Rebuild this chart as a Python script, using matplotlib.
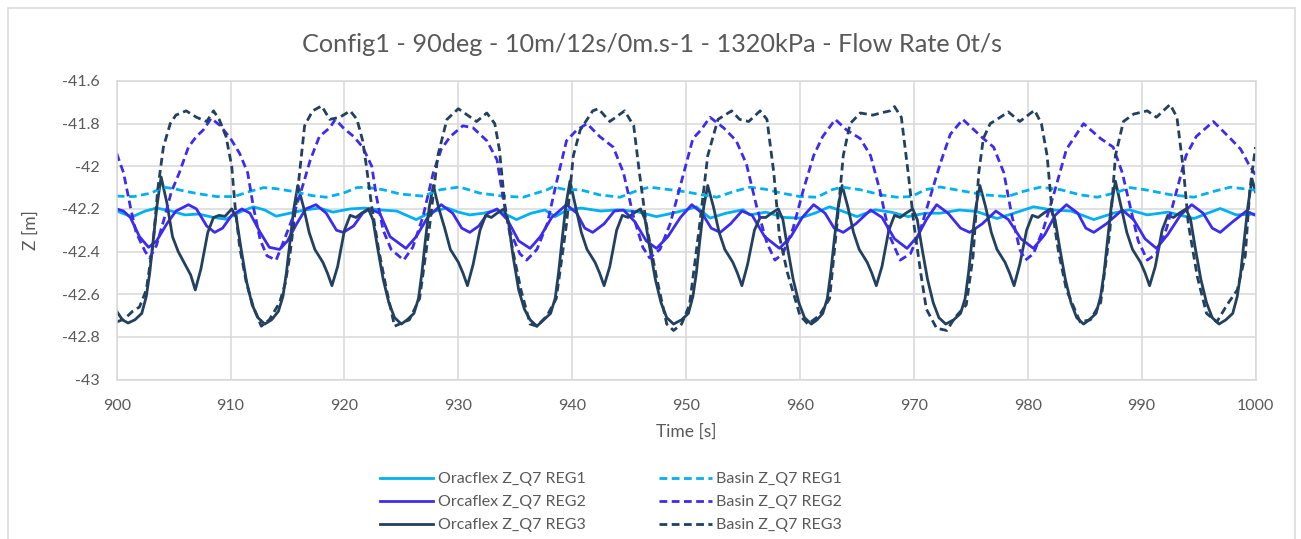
import matplotlib
matplotlib.use('Agg')
import matplotlib.pyplot as plt
from matplotlib.lines import Line2D
from matplotlib.patches import Rectangle

plt.rcParams['font.family'] = ['Lato', 'DejaVu Sans']

# ---------------- data ----------------
title = "Config1 - 90deg - 10m/12s/0m.s-1 - 1320kPa - Flow Rate 0t/s"
x_label = "Time [s]"
y_label = "Z [m]"
x_ticks = [900, 910, 920, 930, 940, 950, 960, 970, 980, 990, 1000]
y_ticks = [-43.0, -42.8, -42.6, -42.4, -42.2, -42.0, -41.8, -41.6]
y_tick_labels = ["-43", "-42.8", "-42.6", "-42.4", "-42.2", "-42", "-41.8", "-41.6"]
series_names = ["Oracflex Z_Q7 REG1", "Orcaflex Z_Q7 REG2", "Orcaflex Z_Q7 REG3",
                "Basin Z_Q7 REG1", "Basin Z_Q7 REG2", "Basin Z_Q7 REG3"]

# Orcaflex REG1 (solid cyan)
t_orca1 = [900.0, 901.0, 901.4, 902.5, 903.5, 904.8, 906.0, 907.2, 908.5, 909.6, 910.8, 912.0, 913.0,
           914.0, 915.2, 916.5, 917.8, 919.0, 920.5, 921.8, 923.2, 924.6, 926.3, 927.6, 929.0, 930.0,
           931.0, 932.2, 933.4, 935.1, 936.4, 937.6, 938.5, 939.6, 940.8, 942.5, 944.0, 945.6, 947.4,
           948.8, 950.0, 950.9, 952.1, 953.5, 955.0, 955.6, 957.0, 958.6, 960.0, 961.3, 962.6, 963.8,
           965.0, 966.6, 968.0, 969.5, 971.0, 972.3, 974.0, 975.5, 977.3, 978.8, 980.5, 982.0, 983.8,
           985.8, 987.5, 988.9, 990.5, 992.3, 994.6, 995.8, 996.9, 998.3, 1000.0]
z_orca1 = [-42.21, -42.23, -42.236, -42.21, -42.196, -42.21, -42.228, -42.224, -42.24, -42.248, -42.215, -42.19, -42.205,
           -42.234, -42.22, -42.205, -42.196, -42.215, -42.200, -42.196, -42.205, -42.21, -42.25, -42.215, -42.195, -42.215,
           -42.228, -42.22, -42.205, -42.25, -42.22, -42.205, -42.236, -42.204, -42.196, -42.21, -42.204, -42.212, -42.236,
           -42.22, -42.204, -42.19, -42.243, -42.22, -42.204, -42.228, -42.215, -42.24, -42.243, -42.22, -42.19, -42.212,
           -42.236, -42.204, -42.215, -42.236, -42.22, -42.22, -42.205, -42.212, -42.245, -42.22, -42.19, -42.204, -42.21,
           -42.25, -42.22, -42.204, -42.228, -42.215, -42.245, -42.22, -42.198, -42.228, -42.224]

# Orcaflex REG2 (solid blue)
t_orca2 = [900.0, 900.6, 901.2, 902.0, 902.8, 903.5, 904.4, 905.2, 906.3, 907.0, 907.9, 908.6, 909.3, 910.1,
           911.0, 911.7, 912.6, 913.4, 914.3, 915.0, 915.8, 916.6, 917.5, 918.4, 919.3, 919.9, 920.8, 921.6,
           922.2, 923.1, 924.0, 925.4, 926.3, 927.3, 928.5, 929.5, 930.3, 931.0, 931.8, 932.6, 933.4, 934.3,
           935.3, 936.3, 937.2, 938.2, 939.5, 940.4, 941.1, 941.8, 942.8, 943.7, 944.5, 945.5, 946.5, 947.4,
           948.4, 949.5, 950.5, 951.4, 952.2, 953.0, 953.9, 954.9, 955.8, 956.9, 958.2, 959.2, 960.2, 961.2,
           962.2, 963.0, 963.8, 964.9, 966.2, 967.2, 968.3, 969.4, 970.3, 971.1, 972.0, 973.0, 974.1, 974.9,
           976.0, 977.2, 978.3, 979.4, 980.5, 981.5, 982.4, 983.4, 984.4, 985.1, 985.8, 986.9, 988.3, 989.3,
           990.3, 991.3, 992.3, 993.4, 994.4, 995.4, 996.2, 996.9, 998.0, 999.2, 1000.0]
z_orca2 = [-42.20, -42.21, -42.24, -42.33, -42.38, -42.35, -42.27, -42.21, -42.18, -42.20, -42.28, -42.31, -42.29, -42.23,
           -42.20, -42.22, -42.31, -42.38, -42.39, -42.35, -42.27, -42.20, -42.18, -42.22, -42.30, -42.31, -42.28, -42.22,
           -42.20, -42.22, -42.33, -42.385, -42.33, -42.24, -42.18, -42.22, -42.29, -42.31, -42.28, -42.22, -42.20, -42.25,
           -42.35, -42.385, -42.33, -42.24, -42.18, -42.22, -42.29, -42.31, -42.27, -42.21, -42.205, -42.26, -42.35, -42.385,
           -42.33, -42.24, -42.18, -42.22, -42.29, -42.31, -42.27, -42.21, -42.23, -42.33, -42.385, -42.33, -42.24, -42.18,
           -42.22, -42.29, -42.31, -42.27, -42.205, -42.24, -42.34, -42.385, -42.33, -42.25, -42.18, -42.22, -42.29, -42.31,
           -42.27, -42.21, -42.25, -42.34, -42.385, -42.32, -42.23, -42.18, -42.22, -42.29, -42.31, -42.27, -42.205, -42.25,
           -42.34, -42.385, -42.32, -42.23, -42.18, -42.22, -42.29, -42.31, -42.26, -42.21, -42.23]

# Orcaflex REG3 (solid navy)
t_orca3 = [900.0, 900.5, 901.0,
           901.6, 902.2, 902.6, 902.9, 903.2, 903.55, 903.9, 904.4, 904.9, 905.4, 906.1, 906.5, 906.9, 907.4, 908.0, 908.5, 909.0, 909.5, 910.1, 910.5, 910.9, 911.4, 911.9, 912.4, 913.0,
           913.6, 914.2, 914.6, 914.9, 915.2, 915.55, 915.9, 916.4, 916.9, 917.4, 918.1, 918.5, 918.9, 919.4, 920.0, 920.5, 921.0, 921.5, 922.1, 922.5, 922.9, 923.4, 923.9, 924.4, 925.0,
           925.5, 926.1, 926.5, 926.8, 927.1, 927.45, 927.8, 928.3, 928.8, 929.3, 930.0, 930.4, 930.8, 931.3, 931.9, 932.4, 932.9, 933.4, 934.0, 934.4, 934.8, 935.3, 935.8, 936.3, 936.9,
           937.5, 938.1, 938.5, 938.8, 939.1, 939.45, 939.8, 940.3, 940.8, 941.3, 942.0, 942.4, 942.8, 943.3, 943.9, 944.4, 944.9, 945.4, 946.0, 946.4, 946.8, 947.3, 947.8, 948.3, 948.9,
           949.6, 950.2, 950.6, 950.9, 951.2, 951.55, 951.9, 952.4, 952.9, 953.4, 954.1, 954.5, 954.9, 955.4, 956.0, 956.5, 957.0, 957.5, 958.1, 958.5, 958.9, 959.4, 959.9, 960.4, 961.0,
           961.5, 962.0, 962.4, 962.7, 963.0, 963.35, 963.7, 964.2, 964.7, 965.2, 965.9, 966.3, 966.7, 967.2, 967.8, 968.3, 968.8, 969.3, 969.9, 970.3, 970.7, 971.2, 971.7, 972.2, 972.8,
           973.5, 974.1, 974.5, 974.8, 975.1, 975.45, 975.8, 976.3, 976.8, 977.3, 978.0, 978.4, 978.8, 979.3, 979.9, 980.4, 980.9, 981.4, 982.0, 982.4, 982.8, 983.3, 983.8, 984.3, 984.9,
           985.4, 986.0, 986.4, 986.7, 987.0, 987.35, 987.7, 988.2, 988.7, 989.2, 989.9, 990.3, 990.7, 991.2, 991.8, 992.3, 992.8, 993.3, 993.9, 994.3, 994.7, 995.2, 995.7, 996.2, 996.8,
           997.4, 998.0, 998.4, 998.7, 999.0, 999.35, 999.7, 1000.0]
z_orca3 = [-42.68, -42.72, -42.735,
           -42.72, -42.69, -42.61, -42.50, -42.35, -42.18, -42.05, -42.17, -42.33, -42.40, -42.47, -42.51, -42.58, -42.48, -42.31, -42.24, -42.23, -42.235, -42.20, -42.24, -42.38, -42.54, -42.65, -42.71, -42.74,
           -42.72, -42.68, -42.61, -42.50, -42.36, -42.20, -42.09, -42.19, -42.31, -42.39, -42.45, -42.50, -42.56, -42.47, -42.30, -42.23, -42.24, -42.22, -42.20, -42.25, -42.38, -42.53, -42.64, -42.71, -42.74,
           -42.72, -42.69, -42.62, -42.50, -42.35, -42.19, -42.09, -42.20, -42.29, -42.39, -42.45, -42.50, -42.56, -42.46, -42.30, -42.23, -42.24, -42.22, -42.20, -42.26, -42.42, -42.58, -42.67, -42.72, -42.75,
           -42.72, -42.69, -42.62, -42.50, -42.35, -42.18, -42.07, -42.19, -42.31, -42.39, -42.45, -42.50, -42.56, -42.47, -42.30, -42.23, -42.24, -42.22, -42.20, -42.25, -42.38, -42.53, -42.64, -42.71, -42.74,
           -42.72, -42.69, -42.61, -42.50, -42.35, -42.19, -42.09, -42.19, -42.31, -42.39, -42.45, -42.50, -42.56, -42.46, -42.30, -42.24, -42.24, -42.22, -42.20, -42.25, -42.38, -42.53, -42.64, -42.71, -42.74,
           -42.72, -42.69, -42.62, -42.50, -42.35, -42.19, -42.09, -42.19, -42.31, -42.39, -42.45, -42.50, -42.56, -42.47, -42.30, -42.23, -42.24, -42.22, -42.20, -42.25, -42.38, -42.53, -42.64, -42.71, -42.74,
           -42.72, -42.69, -42.62, -42.50, -42.35, -42.19, -42.09, -42.19, -42.31, -42.39, -42.45, -42.50, -42.56, -42.46, -42.30, -42.23, -42.24, -42.22, -42.20, -42.25, -42.38, -42.53, -42.64, -42.71, -42.74,
           -42.72, -42.69, -42.61, -42.50, -42.35, -42.18, -42.07, -42.19, -42.31, -42.39, -42.45, -42.50, -42.56, -42.47, -42.30, -42.23, -42.24, -42.22, -42.20, -42.25, -42.38, -42.53, -42.64, -42.71, -42.74,
           -42.72, -42.69, -42.61, -42.50, -42.35, -42.18, -42.06, -42.12]

# Basin REG1 (dashed cyan)
t_bas1 = [900.0, 901.5, 903.0, 904.1, 905.0, 906.1, 907.3, 908.8, 910.3, 911.7, 912.9, 914.0, 915.5, 917.2,
          918.4, 919.9, 921.1, 921.9, 923.4, 924.9, 926.9, 928.4, 930.1, 931.9, 933.9, 935.7, 937.8, 938.3,
          939.5, 940.7, 942.4, 944.2, 945.9, 946.8, 948.6, 950.0, 951.4, 952.7, 954.2, 955.6, 957.0, 958.4,
          960.0, 961.5, 962.8, 963.7, 965.3, 967.1, 968.5, 969.8, 971.0, 972.3, 974.5, 976.2, 978.2, 979.6,
          981.1, 982.9, 984.6, 986.1, 987.6, 989.0, 990.3, 992.6, 994.6, 996.3, 997.8, 1000.0]
z_bas1 = [-42.14, -42.142, -42.126, -42.098, -42.105, -42.118, -42.13, -42.142, -42.142, -42.118, -42.10, -42.105, -42.118, -42.138,
          -42.145, -42.126, -42.10, -42.098, -42.11, -42.13, -42.14, -42.11, -42.097, -42.126, -42.14, -42.145, -42.11, -42.097,
          -42.11, -42.11, -42.134, -42.145, -42.11, -42.098, -42.11, -42.12, -42.134, -42.145, -42.118, -42.098, -42.108, -42.126,
          -42.142, -42.145, -42.11, -42.098, -42.11, -42.134, -42.145, -42.142, -42.11, -42.097, -42.118, -42.134, -42.142, -42.118,
          -42.098, -42.11, -42.134, -42.145, -42.126, -42.10, -42.11, -42.134, -42.145, -42.118, -42.098, -42.112]

# Basin REG2 (dashed blue)
t_bas2 = [900.0, 900.6, 901.2, 901.7, 902.5, 902.9, 903.5, 904.2, 904.8, 905.5, 906.3, 907.0, 907.6, 908.3,
          909.1, 910.0, 910.8, 911.5, 912.0, 912.6, 913.2, 914.0, 914.6, 915.5, 916.4, 917.0, 917.8, 918.7,
          919.2, 919.9, 920.8, 921.6, 922.4, 922.8, 923.4, 924.1, 925.2, 926.0, 926.9, 927.8, 928.5, 929.3,
          930.4, 931.3, 932.5, 933.4, 933.9, 934.5, 935.4, 936.0, 936.9, 937.8, 938.6, 939.5, 940.4, 941.3,
          942.4, 943.6, 944.5, 945.4, 946.2, 946.8, 947.7, 948.6, 949.3, 949.9, 950.6, 951.3, 952.1, 953.3,
          954.4, 955.3, 956.2, 957.1, 957.8, 958.5, 959.4, 960.3, 961.2, 962.0, 963.1, 964.1, 965.3, 966.2,
          967.0, 967.9, 968.8, 969.7, 970.5, 971.4, 972.3, 973.2, 974.3, 976.1, 977.0, 977.9, 978.6, 979.3,
          979.8, 980.5, 981.4, 982.4, 983.4, 984.9, 986.4, 987.5, 988.3, 989.0, 989.7, 990.5, 991.3, 992.2,
          993.1, 993.9, 994.8, 996.3, 997.8, 998.7, 999.4, 1000.0]
z_bas2 = [-41.94, -42.03, -42.19, -42.31, -42.40, -42.43, -42.37, -42.24, -42.12, -42.03, -41.91, -41.86, -41.83, -41.775,
          -41.81, -41.87, -41.94, -42.03, -42.19, -42.345, -42.42, -42.44, -42.36, -42.235, -42.08, -41.97, -41.86, -41.82,
          -41.78, -41.82, -41.86, -41.91, -42.00, -42.14, -42.30, -42.39, -42.44, -42.38, -42.235, -42.03, -41.92, -41.86,
          -41.81, -41.82, -41.88, -41.97, -42.14, -42.30, -42.41, -42.44, -42.39, -42.27, -42.08, -41.88, -41.83, -41.80,
          -41.86, -41.91, -42.03, -42.24, -42.38, -42.43, -42.39, -42.27, -42.13, -42.01, -41.87, -41.83, -41.77, -41.82,
          -41.88, -41.99, -42.19, -42.36, -42.44, -42.41, -42.29, -42.11, -41.95, -41.86, -41.78, -41.83, -41.87, -41.95,
          -42.11, -42.33, -42.44, -42.41, -42.31, -42.15, -41.99, -41.85, -41.78, -41.87, -41.91, -42.03, -42.23, -42.39,
          -42.44, -42.41, -42.29, -42.11, -41.92, -41.80, -41.87, -41.91, -42.03, -42.19, -42.35, -42.44, -42.41, -42.29,
          -42.11, -41.95, -41.86, -41.79, -41.87, -41.92, -41.99, -42.04]

# Basin REG3 (dashed navy)
t_bas3 = [900.0, 900.5, 901.0, 901.4, 902.0, 902.6, 903.2, 903.6, 904.1, 904.7, 905.2, 906.1, 907.0, 907.9,
          908.5, 909.0, 909.6, 910.1, 910.4, 910.8, 911.4, 912.0, 912.7, 913.4, 914.3, 914.8, 915.2, 915.9,
          916.5, 917.2, 918.0, 918.7, 919.6, 920.5, 921.1, 921.6, 921.9, 922.4, 923.0, 923.7, 924.4, 925.7,
          926.6, 927.5, 928.2, 929.0, 930.0, 930.8, 931.6, 932.5, 933.2, 933.6, 934.1, 934.8, 935.5, 936.3,
          936.9, 937.8, 938.6, 939.5, 940.1, 940.7, 941.8, 942.3, 943.3, 944.6, 945.4, 945.9, 946.5, 947.4,
          948.3, 948.9, 949.6, 950.3, 951.2, 951.9, 952.8, 954.0, 954.7, 955.5, 956.5, 957.1, 957.7, 958.2,
          958.9, 960.0, 960.7, 961.7, 962.6, 963.2, 963.8, 964.4, 965.3, 966.4, 967.1, 967.9, 968.3, 968.9,
          969.5, 970.0, 970.6, 971.1, 972.0, 972.9, 973.6, 974.6, 975.2, 975.7, 976.1, 976.7, 977.3, 978.3,
          979.3, 980.6, 981.2, 981.7, 982.1, 982.7, 983.4, 984.6, 985.5, 986.4, 987.2, 987.7, 988.4, 989.3,
          990.5, 991.3, 992.5, 993.1, 993.7, 994.1, 994.9, 995.7, 996.6, 997.5, 998.4, 999.1, 999.5, 1000.0]
z_bas3 = [-42.73, -42.72, -42.70, -42.68, -42.66, -42.58, -42.36, -42.11, -41.91, -41.80, -41.76, -41.74, -41.77, -41.79,
          -41.74, -41.78, -41.86, -42.00, -42.19, -42.38, -42.55, -42.66, -42.75, -42.72, -42.64, -42.55, -42.42, -42.11,
          -41.81, -41.74, -41.717, -41.78, -41.77, -41.74, -41.78, -41.88, -41.99, -42.19, -42.39, -42.58, -42.75, -42.72,
          -42.62, -42.27, -41.95, -41.78, -41.73, -41.76, -41.79, -41.75, -41.80, -41.92, -42.19, -42.40, -42.58, -42.74,
          -42.75, -42.70, -42.62, -42.27, -41.95, -41.83, -41.74, -41.73, -41.79, -41.74, -41.81, -42.03, -42.27, -42.52,
          -42.74, -42.77, -42.74, -42.65, -42.27, -41.95, -41.78, -41.74, -41.78, -41.79, -41.74, -41.78, -42.03, -42.33,
          -42.50, -42.70, -42.74, -42.70, -42.62, -42.30, -41.95, -41.80, -41.75, -41.76, -41.75, -41.74, -41.72, -41.77,
          -42.03, -42.27, -42.50, -42.67, -42.76, -42.77, -42.71, -42.65, -42.42, -42.03, -41.87, -41.80, -41.78, -41.745,
          -41.79, -41.737, -41.80, -41.95, -42.19, -42.40, -42.58, -42.73, -42.72, -42.64, -42.31, -41.95, -41.79, -41.755,
          -41.74, -41.77, -41.71, -41.77, -42.03, -42.27, -42.52, -42.69, -42.73, -42.65, -42.58, -42.42, -42.11, -41.91]

# ---------------- style ----------------
c_reg1 = '#00B0F0'
c_reg2 = '#3D2BEF'
c_reg3 = '#22405F'
grid_c = '#D9D9D9'
text_c = '#595959'
lw = 2.0
dash = (0, (2.8, 1.6))

W, H = 1301, 539
fig = plt.figure(figsize=(W / 100, H / 100), dpi=100)
ax_l, ax_r, ax_t, ax_b = 116.7, 1255.5, 81.0, 379.5
ax = fig.add_axes([ax_l / W, (H - ax_b) / H, (ax_r - ax_l) / W, (ax_b - ax_t) / H])

h1, = ax.plot(t_orca1, z_orca1, color=c_reg1, lw=lw, solid_joinstyle='round')
h2, = ax.plot(t_orca2, z_orca2, color=c_reg2, lw=lw, solid_joinstyle='round')
h3, = ax.plot(t_orca3, z_orca3, color=c_reg3, lw=lw, solid_joinstyle='round')
h4, = ax.plot(t_bas1, z_bas1, color=c_reg1, lw=lw, linestyle=dash)
h5, = ax.plot(t_bas2, z_bas2, color=c_reg2, lw=lw, linestyle=dash)
h6, = ax.plot(t_bas3, z_bas3, color=c_reg3, lw=lw, linestyle=dash)

ax.set_xlim(x_ticks[0], x_ticks[-1])
ax.set_ylim(y_ticks[0], y_ticks[-1])
ax.set_xticks(x_ticks)
ax.set_xticklabels([str(v) for v in x_ticks])
ax.set_yticks(y_ticks)
ax.set_yticklabels(y_tick_labels)
ax.grid(True, color=grid_c, lw=1.1)
ax.set_axisbelow(True)
for s in ax.spines.values():
    s.set_color(grid_c)
    s.set_linewidth(1.1)
ax.tick_params(length=0, labelsize=11.5, labelcolor=text_c)
ax.tick_params(axis='y', pad=12)
ax.tick_params(axis='x', pad=14)

fig.text(651.5 / W, (H - 45) / H, title, ha='center', va='center', fontsize=18.2, color=text_c)
fig.text(686 / W, (H - 432) / H, x_label, ha='center', va='center', fontsize=12.5, color=text_c)
fig.text(31 / W, (H - 230) / H, y_label, ha='center', va='center', fontsize=12.5, color=text_c, rotation=90)

fig.legend([h1, h2, h3, h4, h5, h6], series_names, ncol=2, frameon=False,
           loc='upper left', bbox_to_anchor=(380 / W, (H - 472) / H),
           borderpad=0, borderaxespad=0, fontsize=11.5, handlelength=3.3,
           handletextpad=0.3, columnspacing=4.6, labelspacing=0.55,
           labelcolor=text_c)

fig.patches.append(Rectangle((8 / W, -0.02), (1295 - 8) / W, (H - 8) / H + 0.02,
                             transform=fig.transFigure, fill=False, edgecolor=grid_c, lw=1.1))

fig.savefig('out.png', dpi=100, facecolor='white')
